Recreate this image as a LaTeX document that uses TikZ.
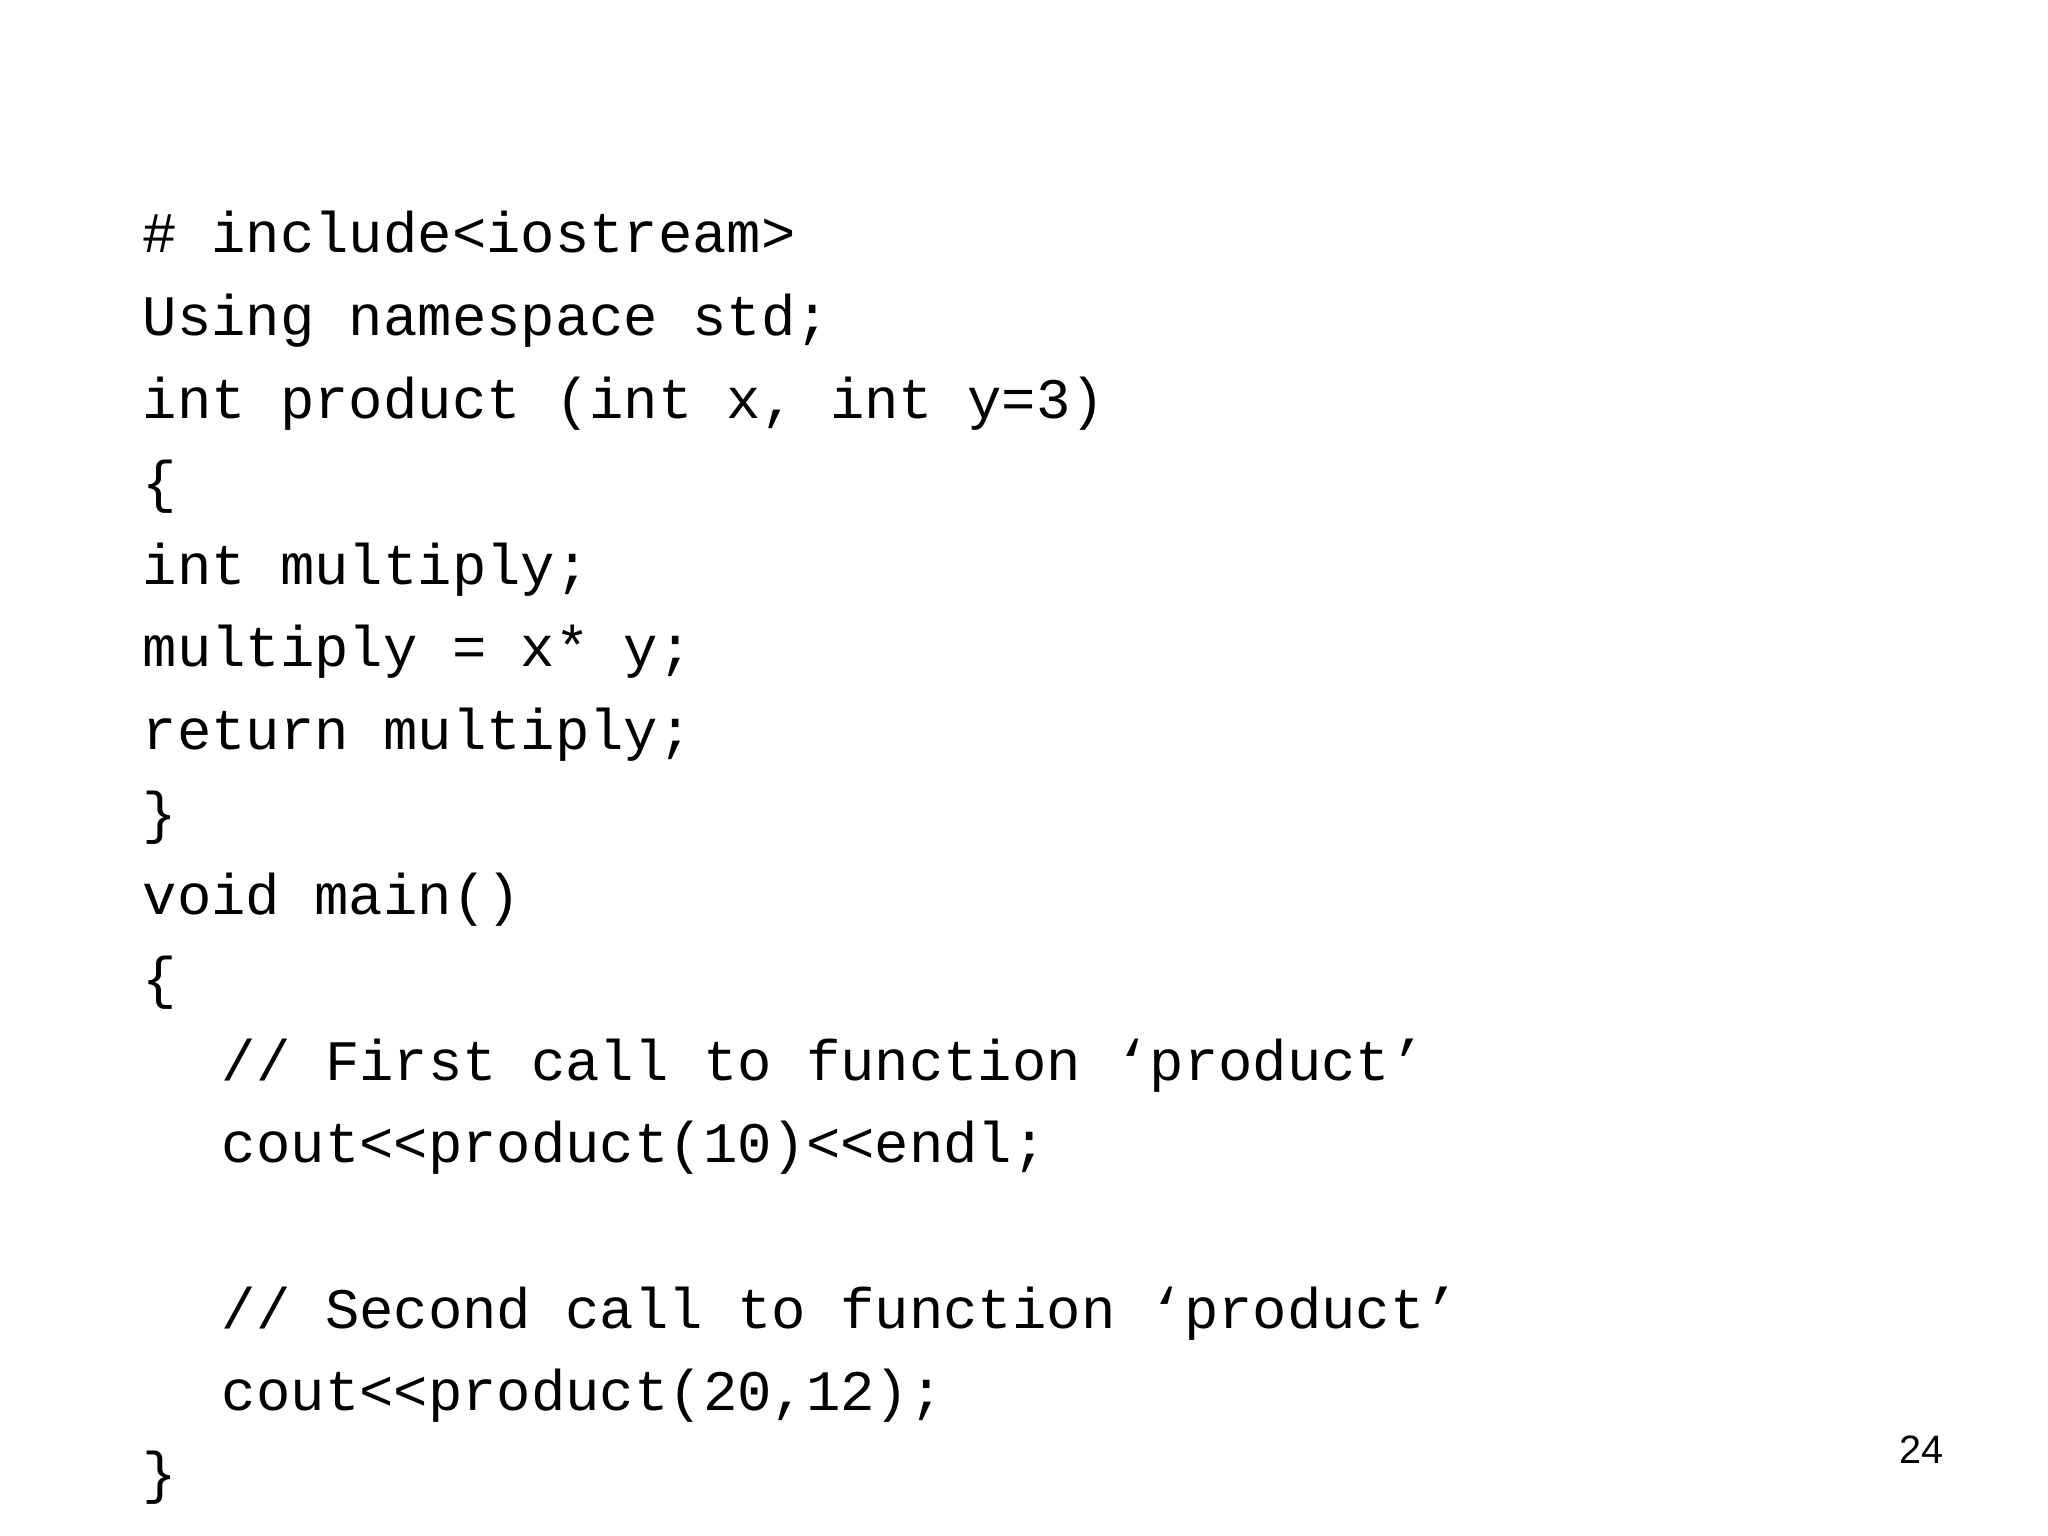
\documentclass[tikz,border=0pt]{standalone}
\usepackage{fontspec}
\setmonofont{Liberation Mono}
\newfontfamily\arialf{Liberation Sans}
\begin{document}
\begin{tikzpicture}[x=1pt,y=-1pt,
  code/.style={anchor=base west,inner sep=0pt,font=\ttfamily\fontsize{43.4}{50}\selectfont}]
\useasboundingbox (0,0) rectangle (1552,1164);
\fill[white] (0,0) rectangle (1552,1164);
\node[code] (l1) at (108,191) {\# include<iostream>};
\node[code] (l2) at (108,254) {Using namespace std;};
\node[code] (l3) at (108,317) {int product (int x, int y=3)};
\node[code] (l4) at (108,380) {\{};
\node[code] (l5) at (108,443) {int multiply;};
\node[code] (l6) at (108,505) {multiply = x* y;};
\node[code] (l7) at (108,568) {return multiply;};
\node[code] (l8) at (108,631) {\}};
\node[code] (l9) at (108,693) {void main()};
\node[code] (l10) at (108,756) {\{};
\node[code] (l11) at (168,819) {// First call to function ‘product’};
\node[code] (l12) at (168,881) {cout<<product(10)<<endl;};
\node[code] (l13) at (168,1007) {// Second call to function ‘product’};
\node[code] (l14) at (168,1069) {cout<<product(20,12);};
\node[code] (l15) at (108,1131) {\}};
\node[anchor=base,inner sep=0pt,font=\arialf\fontsize{30}{36}\selectfont] (pg) at (1456,1109) {24};
\end{tikzpicture}
\end{document}
